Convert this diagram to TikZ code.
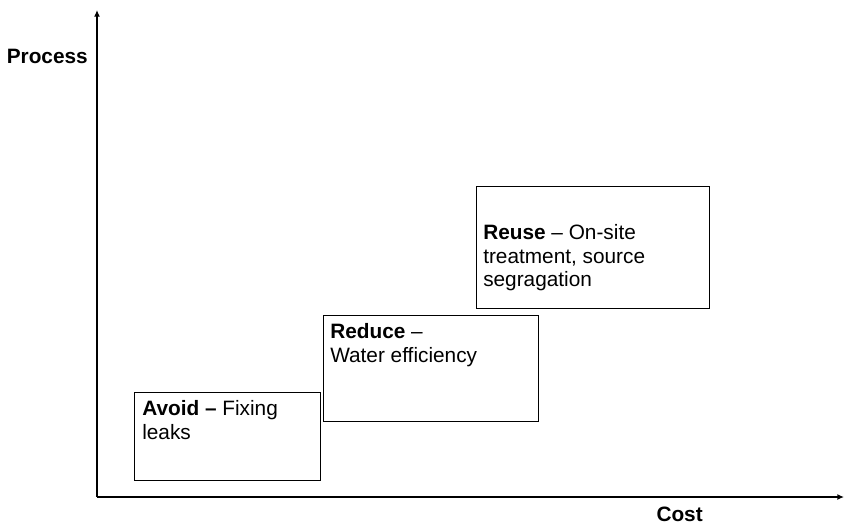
\documentclass[tikz,border=0pt]{standalone}
\usepackage{fontspec}
\setmainfont{Liberation Sans}
\usetikzlibrary{arrows.meta}
\begin{document}
\begin{tikzpicture}[x=0.75pt,y=-0.75pt,
  box/.style={draw, line width=0.9pt, anchor=north west, inner sep=0pt},
  txt/.style={anchor=north west, inner sep=0pt, align=left, font=\fontsize{15.6pt}{17.8pt}\selectfont},
  axis/.style={line width=1.1pt, -{Latex[length=5pt,width=4.5pt]}},
  lbl/.style={font=\fontsize{15.6pt}{17pt}\selectfont\bfseries, inner sep=0pt}]
\useasboundingbox (0,0) rectangle (845,525);
% axes
\coordinate (o) at (97,497);
\coordinate (ytop) at (97,10);
\coordinate (xend) at (844,497);
\draw[axis] (o) -- (ytop);
\draw[axis] (o) -- (xend);
\node[lbl, anchor=base east] (process) at (88,63) {Process};
\node[lbl, anchor=base east] (cost) at (703,521) {Cost};
% boxes
\node[box, minimum width=186*0.75pt, minimum height=88*0.75pt] (avoid) at (134,392) {};
\node[box, minimum width=215*0.75pt, minimum height=106*0.75pt] (reduce) at (323,315) {};
\node[box, minimum width=233*0.75pt, minimum height=122*0.75pt] (reuse) at (476,186) {};
% texts
\node[txt] (avoidtxt) at (142,400) {\textbf{Avoid –} Fixing\\leaks};
\node[txt] (reducetxt) at (330,323) {\textbf{Reduce} –\\Water efficiency};
\node[txt] (reusetxt) at (483,224) {\textbf{Reuse} – On-site\\treatment, source\\segragation};
\end{tikzpicture}
\end{document}
